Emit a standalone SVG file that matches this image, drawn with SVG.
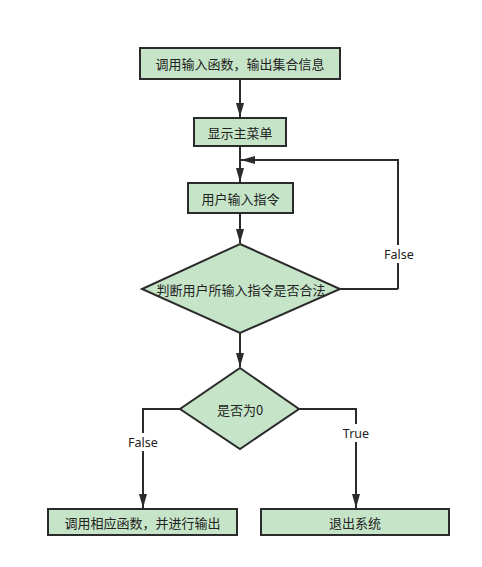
<svg xmlns="http://www.w3.org/2000/svg" width="482" height="567" viewBox="0 0 482 567">
<style>
.n{fill:#c6e5c8;stroke:#2b2b2b;stroke-width:2}
.t{font-family:"Noto Sans CJK SC","Noto Sans",sans-serif;font-size:13px;fill:#222;text-anchor:middle;dominant-baseline:central}
.c{fill:none;stroke:#2b2b2b;stroke-width:2}
.l{font-family:"Noto Sans","Noto Sans CJK SC",sans-serif;font-size:12.5px;fill:#222;text-anchor:middle;dominant-baseline:central}
</style>
<defs>
<marker id="a" viewBox="0 0 14 8" refX="14" refY="4" markerWidth="14" markerHeight="8" orient="auto" markerUnits="userSpaceOnUse">
<path d="M0,0 L14,4 L0,8 z" fill="#2b2b2b"/>
</marker>
</defs>
<rect width="482" height="567" fill="#fff"/>
<g id="connectors">
<path class="c" d="M240,79 V117" marker-end="url(#a)"/>
<path class="c" d="M240,146 V182" marker-end="url(#a)"/>
<path class="c" d="M398,289 H340 M398,289 V160 H241" marker-end="url(#a)"/>
<path class="c" d="M240,213 V243" marker-end="url(#a)"/>
<path class="c" d="M240,333 V367" marker-end="url(#a)"/>
<path class="c" d="M180,409 H143 V508" marker-end="url(#a)"/>
<path class="c" d="M299,409 H356 V508" marker-end="url(#a)"/>
<rect x="384" y="245" width="30" height="18" fill="#fff"/>
<text class="l" x="399" y="254">False</text>
<rect x="128" y="433" width="30" height="18" fill="#fff"/>
<text class="l" x="143" y="442">False</text>
<rect x="342" y="424" width="28" height="18" fill="#fff"/>
<text class="l" x="356" y="433">True</text>
</g>
<g id="n1"><rect class="n" x="140" y="48" width="200" height="31"/><text class="t" x="240" y="63.5">调用输入函数，输出集合信息</text></g>
<g id="n2"><rect class="n" x="194" y="118" width="92" height="28"/><text class="t" x="240" y="132">显示主菜单</text></g>
<g id="n3"><rect class="n" x="188" y="183" width="105" height="30"/><text class="t" x="240.5" y="198">用户输入指令</text></g>
<g id="n4"><polygon class="n" points="240,244 340,289 240,333 142,289"/><text class="t" x="241" y="289">判断用户所输入指令是否合法</text></g>
<g id="n5"><polygon class="n" points="240,368 299,409 240,449 180,409"/><text class="t" x="240" y="409">是否为0</text></g>
<g id="n6"><rect class="n" x="48" y="509" width="189" height="26"/><text class="t" x="142.5" y="522">调用相应函数，并进行输出</text></g>
<g id="n7"><rect class="n" x="261" y="509" width="188" height="26"/><text class="t" x="355" y="522">退出系统</text></g>
</svg>
